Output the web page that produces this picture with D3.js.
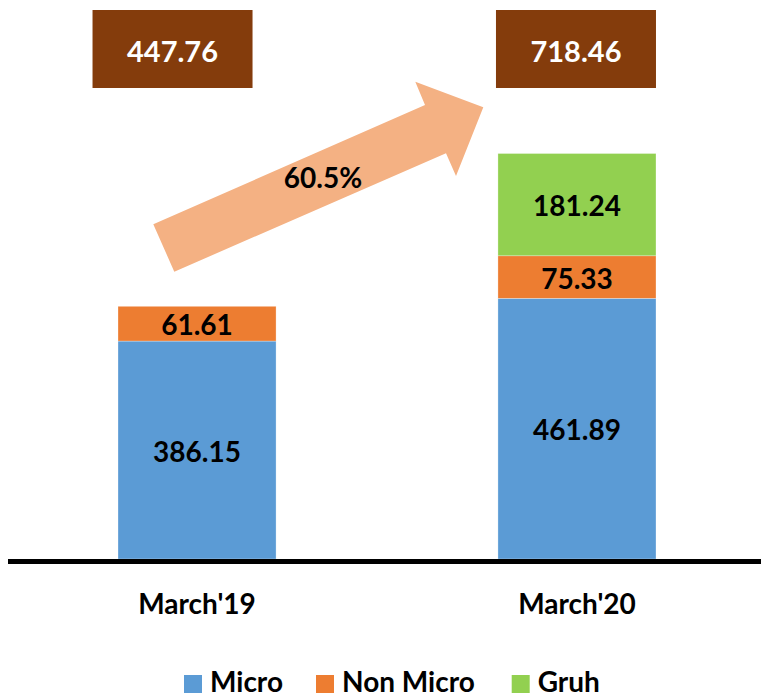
<!DOCTYPE html>
<html>
<head>
<meta charset="utf-8">
<script src="https://cdn.jsdelivr.net/npm/d3@7"></script>
<style>
  html, body { margin: 0; padding: 0; background: #fff; }
  svg { display: block; }
  text { font-family: Lato, "Open Sans", sans-serif; font-weight: 700; }
</style>
</head>
<body>
<svg id="chart" width="761" height="697"></svg>
<script>
// ---- data ----
const categories = ["March'19", "March'20"];
const seriesNames = ["Micro", "Non Micro", "Gruh"];
const micro = [386.15, 461.89];
const nonMicro = [61.61, 75.33];
const gruh = [0, 181.24];
const totals = [447.76, 718.46];
const colors = ["#5B9BD5", "#ED7D31", "#92D050"];

// ---- layout ----
const W = 761, H = 697;
const baseY = 559;
const svg = d3.select("#chart");

const x = d3.scaleBand().domain(categories).range([118, 656]).paddingInner(0.584).paddingOuter(0);
const y = d3.scaleLinear().domain([0, 718.46]).range([baseY, 153.5]);

const rows = categories.map((c, i) => ({ cat: c, "Micro": micro[i], "Non Micro": nonMicro[i], "Gruh": gruh[i] }));
const stacked = d3.stack().keys(seriesNames)(rows);

// arrow (decorative annotation)
const arrowPts = [[153.3, 224.3], [425, 105], [415.3, 81.7], [483.3, 107.3], [456, 176], [446, 153.3], [174.3, 271.7]];
svg.append("path")
  .attr("d", d3.line()(arrowPts) + "Z")
  .attr("fill", "#F4B183");
const growth = ((totals[1] - totals[0]) / totals[0] * 100).toFixed(1) + "%";
svg.append("text")
  .attr("x", 323).attr("y", 188)
  .attr("text-anchor", "middle")
  .attr("font-size", 28)
  .attr("fill", "#000")
  .text(growth);

// bars
stacked.forEach((layer, si) => {
  const g = svg.append("g");
  layer.forEach((d, i) => {
    const v = d[1] - d[0];
    if (v <= 0) return;
    g.append("rect")
      .attr("x", x(categories[i]))
      .attr("y", y(d[1]))
      .attr("width", x.bandwidth())
      .attr("height", y(d[0]) - y(d[1]))
      .attr("fill", colors[si])
      .attr("stroke", "rgba(255,255,255,0.5)")
      .attr("stroke-width", 0.6);
    g.append("text")
      .attr("x", x(categories[i]) + x.bandwidth() / 2)
      .attr("y", (y(d[0]) + y(d[1])) / 2 + 11.5)
      .attr("text-anchor", "middle")
      .attr("font-size", 28)
      .attr("fill", "#000")
      .text(v.toFixed(2));
  });
});

// total boxes
const boxOffset = [-24.5, -1];
totals.forEach((t, i) => {
  const cx = x(categories[i]) + x.bandwidth() / 2 + boxOffset[i];
  svg.append("rect")
    .attr("x", cx - 80).attr("y", 10)
    .attr("width", 160).attr("height", 78)
    .attr("fill", "#843C0C");
  svg.append("text")
    .attr("x", cx).attr("y", 61.5)
    .attr("text-anchor", "middle")
    .attr("font-size", 29)
    .attr("fill", "#fff")
    .text(t.toFixed(2));
});

// x axis
const xAxis = d3.axisBottom(x).tickSize(0).tickPadding(0);
const ax = svg.append("g").attr("transform", `translate(0,${baseY})`).call(xAxis);
ax.select(".domain").remove();
ax.selectAll("text")
  .attr("font-size", 28)
  .attr("fill", "#000")
  .attr("dy", null)
  .attr("y", 54.5)
  .style("font-family", "Lato, 'Open Sans', sans-serif")
  .style("font-weight", 700);
svg.append("line")
  .attr("x1", 8).attr("x2", W)
  .attr("y1", baseY + 2.5).attr("y2", baseY + 2.5)
  .attr("stroke", "#000").attr("stroke-width", 5);

// legend
const legendX = [184, 316, 511.7];
const lg = svg.append("g");
seriesNames.forEach((s, i) => {
  lg.append("rect")
    .attr("x", legendX[i]).attr("y", 675)
    .attr("width", 18).attr("height", 18)
    .attr("fill", colors[i]);
  lg.append("text")
    .attr("x", legendX[i] + 26).attr("y", 692)
    .attr("font-size", 28)
    .attr("fill", "#000")
    .text(s);
});
</script>
</body>
</html>
